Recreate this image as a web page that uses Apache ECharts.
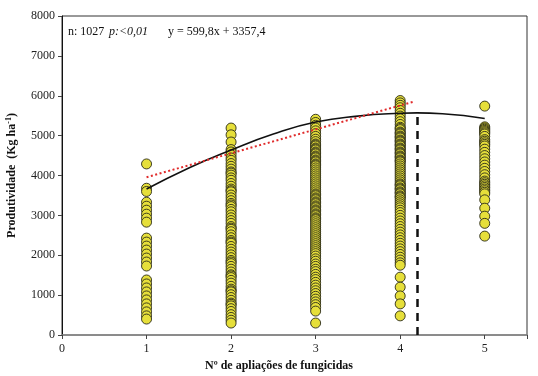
<!DOCTYPE html>
<html lang="pt">

<head>
    <meta charset="UTF-8">
    <title>Produtividade x aplicações</title>
    <style>
        body { margin: 0; background: #fff; }
    </style>
</head>

<body>
    <div id="main" style="width: 538px; height:376px"></div>
    <script src="https://cdn.jsdelivr.net/npm/echarts@6/dist/echarts.min.js"></script>
    <script type="text/javascript">
        // produtividade observada (kg/ha) por numero de aplicacoes
        var col1 = [4290, 3680, 3600, 3330, 3230, 3130, 3030, 2930, 2830, 2430, 2330, 2230, 2130, 2030, 1930, 1830, 1730,
            1380, 1280, 1180, 1080, 980, 880, 780, 680, 580, 480, 400];
        var col2 = [5190, 5020, 4840, 4650, 4590, 4520, 4440, 4380, 4300, 4230, 4160, 4090, 4010, 3940, 3880, 3800, 3730,
            3660, 3590, 3510, 3440, 3370, 3300, 3220, 3150, 3090, 3010, 2940, 2870, 2800, 2720, 2650, 2590, 2510, 2440,
            2370, 2300, 2220, 2150, 2080, 2010, 1940, 1870, 1790, 1720, 1650, 1580, 1510, 1440, 1370, 1300, 1220, 1150,
            1080, 1010, 940, 870, 800, 730, 660, 590, 510, 440, 370, 300,
            4060, 3620, 3260, 2680, 2330, 1830, 1480, 1110, 770];
        var col3 = [5410, 5330, 5260, 5190, 5120, 5050, 4980, 4910, 4850, 4790, 4740, 4690, 4640, 4590, 4540, 4490, 4440,
            4390, 4340, 4290, 4240, 4190, 4140, 4090, 4040, 3990, 3940, 3890, 3840, 3790, 3740, 3690, 3640, 3590, 3540,
            3490, 3440, 3390, 3340, 3290, 3240, 3190, 3140, 3090, 3040, 2990, 2940, 2890, 2840, 2790, 2740, 2690, 2640,
            2590, 2540, 2490, 2440, 2390, 2340, 2290, 2240, 2190, 2140, 2090, 2040, 1980, 1910, 1850, 1780, 1720, 1650,
            1590, 1520, 1450, 1390, 1320, 1250, 1180, 1110, 1040, 970, 900, 830, 760, 690, 600, 300,
            4765, 4665, 4565, 4465, 4365, 4265, 3515, 3415, 3315, 3215, 3115, 3015, 2915];
        var col4 = [5880, 5820, 5760, 5700, 5630, 5560, 5490, 5420, 5350, 5280, 5210, 5150, 5090, 5040, 4990, 4940, 4890,
            4840, 4790, 4740, 4690, 4640, 4590, 4540, 4490, 4440, 4390, 4340, 4290, 4240, 4190, 4140, 4090, 4040, 3990,
            3940, 3890, 3840, 3790, 3740, 3690, 3640, 3590, 3540, 3490, 3440, 3390, 3340, 3290, 3240, 3190, 3130, 3070,
            3000, 2930, 2860, 2790, 2720, 2650, 2580, 2510, 2440, 2370, 2300, 2230, 2160, 2090, 2020, 1950, 1880, 1810,
            1750, 1450, 1200, 980, 780, 480,
            5180, 5065, 4965, 4865, 4765, 4665, 4565, 4465, 4365, 3765, 3665, 3565, 3465];
        var col5 = [5740, 5220, 5160, 5100, 5040, 4980, 4900, 4820, 4740, 4660, 4580, 4500, 4420, 4340, 4260, 4180, 4100,
            4020, 3940, 3860, 3780, 3700, 3620, 3540, 3390, 3180, 2980, 2800, 2480,
            5190, 5130, 5070, 4860, 4780, 3820, 3740, 3660, 3580];
        var columns = [col1, col2, col3, col4, col5];

        // curva quadratica ajustada
        var curveX = [1, 1.5, 2, 2.5, 3, 3.5, 4, 4.2, 4.5, 5];
        var curveY = [3660, 4190, 4640, 5040, 5340, 5490, 5560, 5570, 5550, 5430];

        // reta linear y = 599,8x + 3357,4
        var trendX = [1, 4.15];
        var trendY = [3957, 5846];

        // ponto de maxima
        var optX = 4.2;
        var optY = 5570;

        var xTicks = [0, 1, 2, 3, 4, 5];

        // desenha de cima para baixo para a sobreposicao ficar regular
        var scatterData = [];
        columns.forEach(function (col, i) {
            col.slice().sort(function (a, b) { return b - a; }).forEach(function (v) {
                scatterData.push([i + 1, v]);
            });
        });
        var curveData = curveX.map(function (x, i) { return [x, curveY[i]]; });
        var trendData = trendX.map(function (x, i) { return [x, trendY[i]]; });

        var serif = '"Liberation Serif", "DejaVu Serif", serif';

        var myChart = echarts.init(document.getElementById('main'));
        var option = {
            animation: false,
            grid: {
                left: 62, right: 11, top: 16, bottom: 41,
                outerBoundsMode: 'none',
                containLabel: false,
                show: true, borderColor: '#333', borderWidth: 1
            },
            graphic: [
                { type: 'text', left: 68, top: 26, style: { text: 'n: 1027', font: '12px ' + serif, fill: '#111' } },
                { type: 'text', left: 109, top: 26, style: { text: 'p:<0,01', font: 'italic 12px ' + serif, fill: '#111' } },
                { type: 'text', left: 168, top: 26, style: { text: 'y = 599,8x + 3357,4', font: '12px ' + serif, fill: '#111' } }
            ],
            xAxis: {
                type: 'value',
                min: 0,
                max: 5.5,
                interval: 1,
                splitLine: { show: false },
                axisLine: { onZero: false, lineStyle: { color: '#888', width: 1.5 } },
                axisTick: { show: true, length: 4, lineStyle: { color: '#444' } },
                axisLabel: {
                    margin: 8,
                    color: '#222',
                    fontFamily: serif,
                    fontSize: 12,
                    formatter: function (v) { return xTicks.indexOf(v) >= 0 ? String(v) : ''; }
                },
                name: 'Nº de apliações de fungicidas',
                nameLocation: 'middle',
                nameGap: 22,
                nameTextStyle: { fontFamily: serif, fontWeight: 'bold', fontSize: 12, color: '#111', padding: [0, 31, 0, 0] }
            },
            yAxis: {
                type: 'value',
                min: 0,
                max: 8000,
                interval: 1000,
                splitLine: { show: false },
                axisLine: { show: true, lineStyle: { color: '#111', width: 1 } },
                axisTick: { show: true, length: 4, lineStyle: { color: '#444' } },
                axisLabel: {
                    margin: 7, color: '#222', fontFamily: serif, fontSize: 12,
                    formatter: function (v) { return String(v); }
                },
                name: 'Produtividade  (Kg ha{sup|-1})',
                nameLocation: 'middle',
                nameRotate: 90,
                nameGap: 43,
                nameTextStyle: {
                    fontFamily: serif, fontWeight: 'bold', fontSize: 12, color: '#111',
                    rich: { sup: { fontFamily: serif, fontWeight: 'bold', fontSize: 8, color: '#111', verticalAlign: 'top', padding: [0, 0, 6, 0] } }
                }
            },
            series: [
                {
                    type: 'scatter',
                    data: scatterData,
                    symbol: 'circle',
                    symbolSize: 10,
                    itemStyle: { color: '#e6df3a', borderColor: '#2a2a18', borderWidth: 0.9, opacity: 1 },
                    z: 2
                },
                {
                    type: 'line',
                    data: curveData,
                    smooth: true,
                    showSymbol: false,
                    lineStyle: { color: '#111', width: 1.6 },
                    z: 3,
                    markLine: {
                        silent: true,
                        symbol: ['none', 'none'],
                        label: { show: false },
                        lineStyle: { color: '#111', width: 2.5, type: [8, 6] },
                        data: [[{ coord: [optX, 0] }, { coord: [optX, optY] }]]
                    }
                },
                {
                    type: 'line',
                    data: trendData,
                    showSymbol: false,
                    lineStyle: { color: '#e02a2a', width: 2, type: [2, 2.5] },
                    z: 4
                }
            ]
        };
        myChart.setOption(option);
    </script>

</body>

</html>
